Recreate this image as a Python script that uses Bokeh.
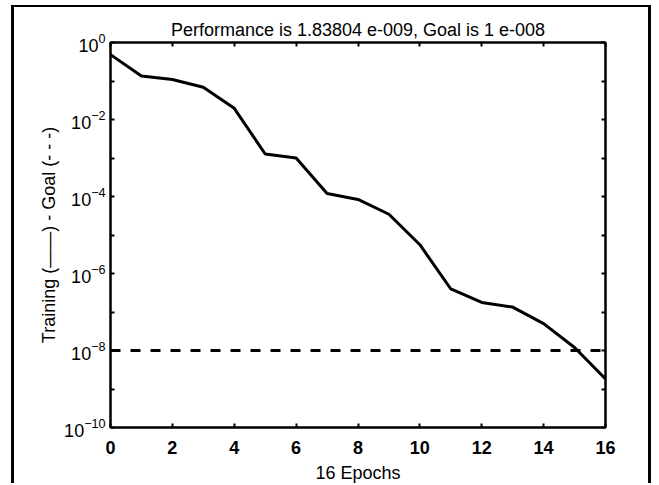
from bokeh.plotting import figure
from bokeh.models import FixedTicker, LogAxis, LinearAxis, Range1d, CustomJSTickFormatter
from bokeh.embed import file_html
from bokeh.resources import INLINE

# ---- data ----
epochs = [0, 1, 2, 3, 4, 5, 6, 7, 8, 9, 10, 11, 12, 13, 14, 15, 16]
performance = [0.484, 0.134, 0.109, 0.0689, 0.0195, 1.27e-3, 1.0e-3, 1.19e-4,
               8.4e-5, 3.46e-5, 5.6e-6, 3.96e-7, 1.77e-7, 1.34e-7, 5.0e-8,
               1.2e-8, 1.83804e-9]
goal_x = [0, 16]
goal_y = [1e-8, 1e-8]
x_ticks = [0, 2, 4, 6, 8, 10, 12, 14, 16]
y_major = [1e-10, 1e-8, 1e-6, 1e-4, 1e-2, 1e0]
y_minor = [1e-9, 1e-7, 1e-5, 1e-3, 1e-1]
title_text = "Performance is 1.83804 e-009, Goal is 1 e-008"
x_label = "16 Epochs"
y_label = "Training (——) - Goal (- - -)"

FONT = "Liberation Sans"

p = figure(width=640, height=478, y_axis_type="log",
           x_range=Range1d(0, 16), y_range=Range1d(1e-10, 1),
           output_backend="svg", toolbar_location=None,
           min_border_left=96, min_border_right=49,
           min_border_top=35, min_border_bottom=53)
p.styles = {"margin-left": "11px", "margin-top": "5px",
            "border-left": "3px solid black", "border-top": "2px solid black",
            "border-right": "3px solid black"}

p.title.text = title_text
p.title.text_font = FONT
p.title.text_font_size = "18px"
p.title.text_font_style = "normal"
p.title.text_color = "black"
p.title.align = "center"
p.title.standoff = 5

p.line(epochs, performance, line_color="black", line_width=3)
p.line(goal_x, goal_y, line_color="black", line_width=3, line_dash="10 10")

p.xgrid.visible = False
p.ygrid.visible = False
p.outline_line_color = "black"
p.outline_line_width = 2
p.background_fill_color = "white"
p.border_fill_color = "white"

xa = p.xaxis[0]
xa.ticker = FixedTicker(ticks=x_ticks)
xa.axis_label = x_label
xa.axis_label_text_font = FONT
xa.axis_label_text_font_size = "18px"
xa.axis_label_text_font_style = "normal"
xa.axis_label_standoff = 6
xa.major_label_text_font = FONT
xa.major_label_text_font_size = "18px"
xa.major_label_text_font_style = "bold"
xa.major_label_standoff = 13

ya = p.yaxis[0]
ya.ticker = FixedTicker(ticks=y_major, minor_ticks=y_minor)
ya.axis_label = y_label
ya.axis_label_text_font = FONT
ya.axis_label_text_font_size = "18px"
ya.axis_label_text_font_style = "normal"
ya.axis_label_standoff = 2
ya.major_label_text_font = FONT
ya.major_label_text_font_size = "18px"
ya.major_label_standoff = 5

for ax in (xa, ya):
    ax.axis_line_color = "black"
    ax.axis_line_width = 2
    ax.major_tick_in = 4
    ax.major_tick_out = 0
    ax.minor_tick_in = 4
    ax.minor_tick_out = 0
    ax.major_tick_line_width = 2
    ax.minor_tick_line_width = 2
    ax.major_label_text_color = "black"
    ax.axis_label_text_color = "black"
xa.minor_tick_line_color = None

top = LinearAxis(ticker=FixedTicker(ticks=x_ticks), formatter=CustomJSTickFormatter(code="return ''"),
                 major_label_text_font_size="1px",
                 major_tick_in=4, major_tick_out=0, minor_tick_line_color=None,
                 axis_line_width=2, major_tick_line_width=2, major_label_standoff=0)
p.add_layout(top, "above")
right = LogAxis(ticker=FixedTicker(ticks=y_major, minor_ticks=y_minor),
                formatter=CustomJSTickFormatter(code="return ''"),
                major_label_text_font_size="1px",
                major_tick_in=4, major_tick_out=0,
                minor_tick_in=4, minor_tick_out=0, axis_line_width=2,
                major_tick_line_width=2, minor_tick_line_width=2, major_label_standoff=0)
p.add_layout(right, "right")

open("out.html", "w").write(file_html(p, INLINE))
